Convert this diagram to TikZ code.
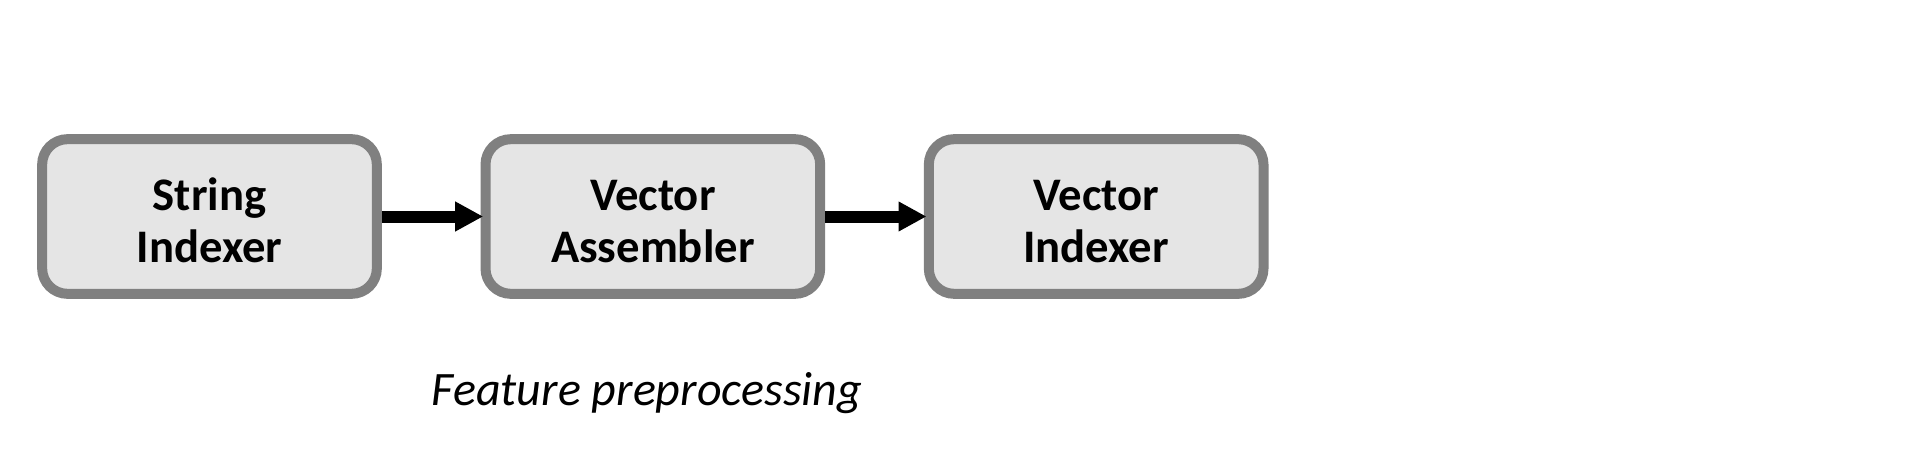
\documentclass[tikz,border=0pt]{standalone}
\usepackage{fontspec}
\setmainfont{Carlito}
\usetikzlibrary{positioning,arrows.meta}

\begin{document}
\begin{tikzpicture}[
    x=0.75pt, y=-0.75pt,
    node distance=74pt,
    box/.style={draw=black!50, line width=7.5pt, rounded corners=19pt, fill=black!10, align=center, minimum width=251pt, minimum height=116pt, font=\fontsize{35}{39}\selectfont\bfseries},
    arrow/.style={-{Triangle[length=21pt,width=21pt]}, line width=9pt, shorten >=-2pt}
]
\useasboundingbox (0,0) rectangle (1908,456);
\node[box] (strind) at (209.5,216.5) {\rule{0pt}{30pt}String\\Indexer};
\node[box, right=of strind] (vecasm) {\rule{0pt}{30pt}Vector\\Assembler};
\node[box, right=of vecasm] (vecind) {\rule{0pt}{30pt}Vector\\Indexer};
\node[anchor=base, font=\fontsize{36}{40}\selectfont\itshape] (caption) at (647,405) {Feature preprocessing};
\draw[arrow] (strind) -- (vecasm);
\draw[arrow] (vecasm) -- (vecind);
\end{tikzpicture}
\end{document}
